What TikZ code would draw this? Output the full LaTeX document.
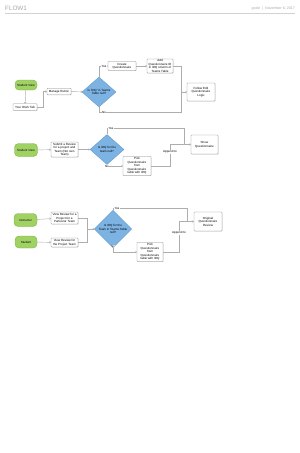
\documentclass[tikz,border=0pt]{standalone}
\usepackage{fontspec}
\setmainfont{Liberation Sans}
\usetikzlibrary{shapes.geometric,arrows.meta,shadows}
\definecolor{termfill}{HTML}{9FD163}
\definecolor{termline}{HTML}{7DB046}
\definecolor{decfill}{HTML}{7DB3E2}
\definecolor{decline}{HTML}{5E97CC}
\definecolor{boxline}{HTML}{8E8E8E}
\definecolor{connline}{HTML}{ADADAD}
\definecolor{headgray}{HTML}{A5A5A5}
\newcommand{\tinyf}{\fontsize{3}{3.5}\selectfont}
\tikzset{
  box/.style={draw=boxline, fill=white, rounded corners=0.6pt, line width=0.35pt, inner sep=0pt, align=center, font=\tinyf,
    drop shadow={shadow xshift=0.4pt, shadow yshift=-0.4pt, opacity=0.25, fill=black}},
  term/.style={draw=termline, fill=termfill, rounded corners=4pt, line width=0.35pt, inner sep=0pt, align=center, font=\tinyf},
  dec/.style={diamond, draw=decline, fill=decfill, line width=0.35pt, inner sep=0pt, align=center, font=\tinyf},
  wire/.style={draw=connline, line width=0.45pt},
  conn/.style={wire, -{Straight Barb[length=1pt,width=2pt]}},
  lbl/.style={fill=white, inner sep=0.3pt, font=\tinyf},
  sz/.style 2 args={minimum width=#1pt, minimum height=#2pt}
}
\begin{document}
\begin{tikzpicture}[x=1pt,y=-1pt]
\useasboundingbox (0,0) rectangle (300,453);
% header
\node[anchor=west, text=headgray, font=\fontsize{6.3}{7}\selectfont, inner sep=0] (title) at (5,8) {FLOW1};
\node[anchor=east, text=headgray, font=\fontsize{3.6}{4}\selectfont, inner sep=0] (meta) at (295,8.5) {gcole \ \textbar\ \ November 6, 2017};
\coordinate (hl) at (5,13);
\coordinate (hr) at (295,13);
\draw[draw=gray!35, line width=0.5pt] (hl) -- (hr);

% ---------- section 1
\node[term, sz={22}{10}] (sv1) at (26,85) {Student View};
\node[box, sz={24}{6.5}] (ywt) at (25,107) {Your Work Tab};
\node[box, sz={24}{6.5}] (mr) at (59,91.5) {Manage Rubric};
\node[dec, sz={34}{30}] (d1) at (99,92) {Is 'IDQ' in Teams\\Table null?};
\node[box, sz={28}{9}] (create) at (122,66) {Create\\Questionnaire};
\node[box, sz={26}{14}] (add) at (160,66) {Add\\Questionnaire ID\\in IDQ column of\\Teams Table};
\node[box, sz={28}{18}] (follow) at (201,92) {Follow Edit\\Questionnaire\\Logic};
\coordinate (j1) at (181,92);
\coordinate (j1b) at (181,112);

\draw[conn] (sv1) -- (ywt);
\draw[conn] (ywt.east) -- ++(6,0) |- (mr.west);
\draw[conn] (mr) -- (d1);
\draw[conn] (d1.north) |- (create.west);
\draw[conn] (create) -- (add);
\draw[wire] (add.east) -| (j1);
\draw[wire] (d1.south) |- (j1b) -- (j1);
\draw[conn] (j1) -- (follow);
\node[lbl] (yes1) at (104,66) {Yes};
\node[lbl] (no1) at (104,112) {No};

% ---------- section 2
\node[term, sz={23}{13}] (sv2) at (26,150) {Student View};
\node[box, sz={27}{15}] (sub) at (64.5,149.5) {Submit a Review\\for a project and\\Team (Not own\\Team)};
\node[dec, sz={34}{30}] (d2) at (107,149.5) {Is IDQ for the\\team null?};
\node[box, sz={28}{19}] (pick2) at (137,166) {Pick\\Questionnaire\\from\\Questionnaire\\table with IDQ};
\node[box, sz={27}{19}] (show) at (204.5,144.5) {Show\\Questionnaire};
\coordinate (j2) at (184,144.5);
\coordinate (j2t) at (184,128);

\draw[conn] (sv2) -- (sub);
\draw[conn] (sub) -- (d2);
\draw[wire] (d2.north) |- (j2t) -- (j2);
\draw[conn] (d2.south) |- (pick2.west);
\draw[wire] (pick2.east) -- ++(19,0) |- (j2);
\draw[conn] (j2) -- (show);
\node[lbl] (yes2) at (111,128) {Yes};
\node[lbl] (no2) at (107,166) {No};
\node[lbl] (app2) at (170,152) {Append to};

% ---------- section 3
\node[term, sz={23}{13}] (ins) at (25.5,220) {Instructor};
\node[box, sz={27}{12}] (vr1) at (64.5,218) {View Review for a\\Project for a\\Particular Team};
\node[term, sz={22}{12}] (stu) at (26,242) {Student};
\node[box, sz={27}{9}] (vr2) at (64.5,242.5) {View Review for\\the Project Team};
\node[dec, sz={35}{28}] (d3) at (113,229) {Is IDQ for the\\Team in Teams Table\\null?};
\node[box, sz={28}{19}] (orig) at (208,221.5) {Original\\Questionnaire\\Review};
\node[box, sz={26}{19}] (pick3) at (150,252) {Pick\\Questionnaire\\from\\Questionnaire\\table with IDQ};
\coordinate (j3) at (87,229);
\coordinate (j4) at (187,221.5);
\coordinate (j4t) at (187,208);

\draw[conn] (ins) -- (vr1);
\draw[conn] (stu) -- (vr2);
\draw[wire] (vr1.east) -| (j3);
\draw[wire] (vr2.east) -| (j3);
\draw[conn] (j3) -- (d3.west);
\draw[wire] (d3.north) |- (j4t) -- (j4);
\draw[conn] (d3.south) |- (pick3.west);
\draw[wire] (pick3.east) -- ++(16,0) |- (j4);
\draw[conn] (j4) -- (orig);
\node[lbl] (yes3) at (117,208) {Yes};
\node[lbl] (no3) at (113,246) {No};
\node[lbl] (app3) at (179,233) {Append to};
\end{tikzpicture}
\end{document}
